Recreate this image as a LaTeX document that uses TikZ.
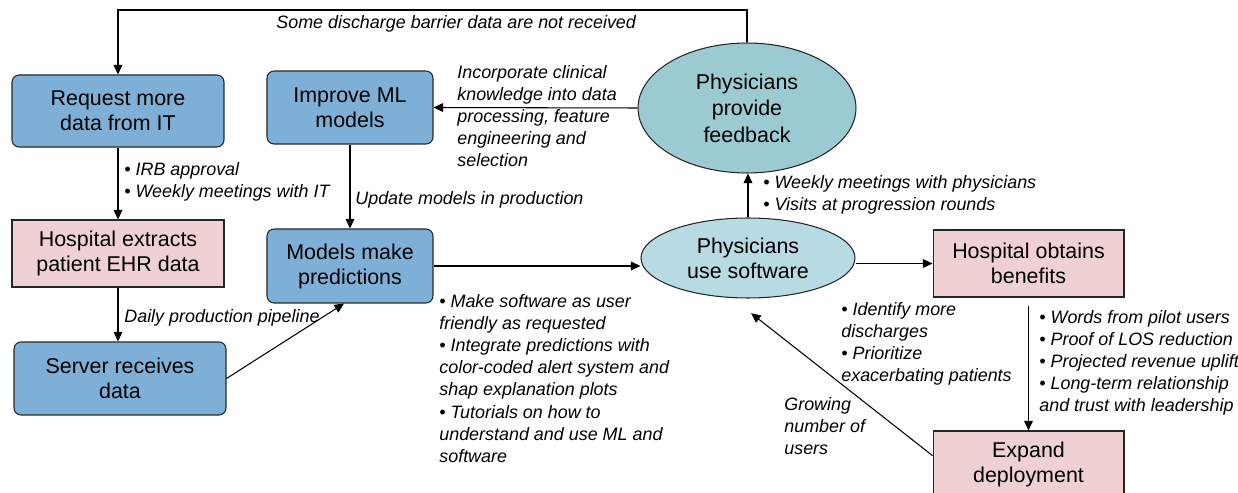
\documentclass[tikz,border=0pt]{standalone}
\usepackage{fontspec}
\setmainfont{Liberation Sans}
\usepackage{xcolor}
\usetikzlibrary{shapes.geometric,arrows.meta}
\definecolor{boxblue}{RGB}{126,175,214}
\definecolor{boxpink}{RGB}{240,209,211}
\definecolor{ovalteal}{RGB}{155,202,210}
\definecolor{ovallight}{RGB}{184,218,226}

\begin{document}
\begin{tikzpicture}[x=0.02cm, y=-0.02cm,
		every node/.style={font=\fontsize{12.2}{14.2}\selectfont, align=center},
		bluebox/.style={draw=black!85, line width=0.6pt, fill=boxblue, rounded corners=4pt, inner sep=0pt},
		pinkbox/.style={draw=black!85, line width=0.6pt, fill=boxpink, inner sep=0pt},
		oval/.style={draw=black!85, line width=0.6pt, ellipse, inner sep=0pt},
		arr/.style={line width=0.6pt, -{Triangle[length=5.5pt,width=5pt]}},
		lbl/.style={font=\fontsize{10.2}{12.6}\selectfont\itshape, align=left, inner sep=0pt, anchor=north west}]
		\useasboundingbox (0,0) rectangle (1238,493);
		\clip (0,0) rectangle (1238,493);
		\node[bluebox, minimum width=4.24cm, minimum height=1.44cm] (request) at (118,111) {Request more\\data from IT};
		\node[bluebox, minimum width=3.32cm, minimum height=1.46cm] (improve) at (350,107.5) {Improve ML\\models};
		\node[pinkbox, minimum width=4.24cm, minimum height=1.34cm] (extract) at (118,253.5) {Hospital extracts\\patient EHR data};
		\node[bluebox, minimum width=3.32cm, minimum height=1.48cm] (predict) at (350,266) {Models make\\predictions};
		\node[bluebox, minimum width=4.24cm, minimum height=1.46cm] (server) at (120,378.5) {Server receives\\data};
		\node[oval, fill=ovalteal, minimum width=4.36cm, minimum height=2.6cm, font=\fontsize{12.2}{15}\selectfont] (feedback) at (747,108) {Physicians\\provide\\feedback};
		\node[oval, fill=ovallight, minimum width=4.28cm, minimum height=1.6cm] (usesw) at (748,258) {Physicians\\use software};
		\node[pinkbox, minimum width=3.82cm, minimum height=1.34cm] (benefit) at (1028.5,263.5) {Hospital obtains\\benefits};
		\node[pinkbox, minimum width=3.82cm, minimum height=1.32cm] (expand) at (1028.5,464) {Expand\\deployment};
		\coordinate (topbend) at (747,10);
		\draw[arr] (feedback.north) -- (topbend) -| (request.north);
		\draw[arr] (feedback.west) -- (improve.east);
		\draw[arr] (request.south) -- (extract.north);
		\draw[arr] (improve.south) -- (predict.north);
		\draw[arr] (extract.south) -- (extract.south |- server.north);
		\draw[arr] (server.east) -- (predict.-99);
		\draw[arr] (predict.east) -- (predict.east -| usesw.west);
		\draw[arr] (usesw.east |- benefit.west) -- (benefit.west);
		\draw[arr] (usesw.north) -- (usesw.north |- feedback.south);
		\draw[arr, shorten <=0.16cm] (benefit.south) -- (expand.north);
		\draw[arr, shorten >=0.49cm] (expand.175) -- (usesw.-112);
		\node[lbl, anchor=base west] (lostdata) at (276,29) {Some discharge barrier data are not received};
		\node[lbl] (clinical) at (457,65) {Incorporate clinical\\knowledge into data\\processing, feature\\engineering and\\selection};
		\node[lbl] (irb) at (124,162) {• IRB approval\\• Weekly meetings with IT};
		\node[lbl, anchor=base west] (update) at (355,205) {Update models in production};
		\node[lbl, anchor=base west] (pipeline) at (124,323) {Daily production pipeline};
		\node[lbl] (usability) at (439,294) {• Make software as user\\friendly as requested\\• Integrate predictions with\\color-coded alert system and\\shap explanation plots\\• Tutorials on how to\\understand and use ML and\\software};
		\node[lbl] (meetings) at (763,175) {• Weekly meetings with physicians\\• Visits at progression rounds};
		\node[lbl] (impact) at (841,302) {• Identify more\\discharges\\• Prioritize\\exacerbating patients};
		\node[lbl] (growing) at (784,397) {Growing\\number of\\users};
		\node[lbl] (proof) at (1039,310) {• Words from pilot users\\• Proof of LOS reduction\\• Projected revenue uplift\\• Long-term relationship\\and trust with leadership};
\end{tikzpicture}
\end{document}
